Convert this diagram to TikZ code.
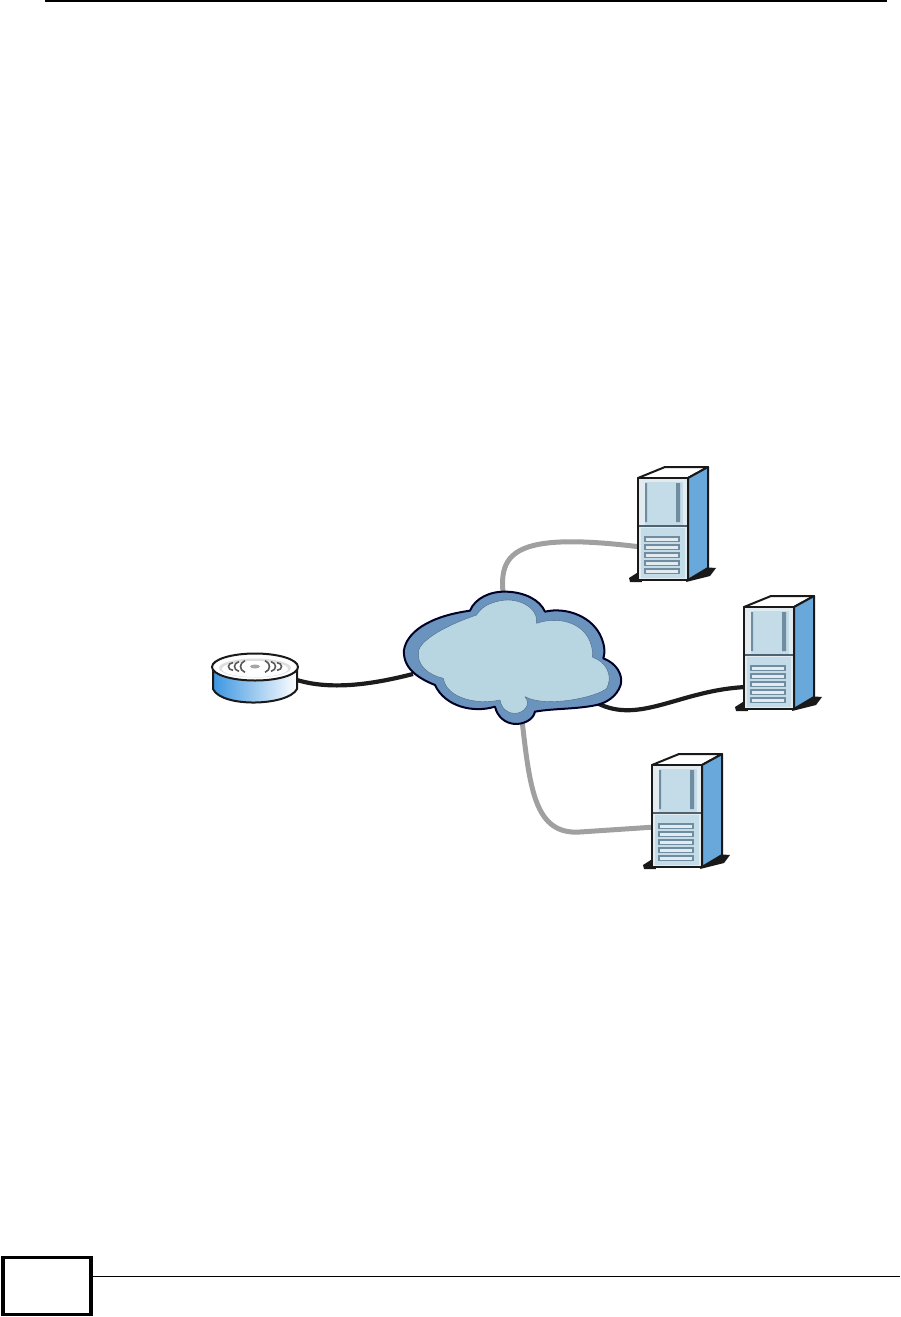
\documentclass[tikz,border=0pt]{standalone}
\usetikzlibrary{calc}
\definecolor{cloudfill}{RGB}{184,214,226}
\definecolor{cloudrim}{RGB}{106,148,190}
\definecolor{serverblue}{RGB}{104,168,218}
\definecolor{serverpale}{RGB}{196,220,232}
\definecolor{serverlight}{RGB}{226,236,240}
\definecolor{slotblue}{RGB}{112,140,160}
\definecolor{routerblue}{RGB}{60,150,225}
\definecolor{cablegrey}{RGB}{160,160,160}
\definecolor{cableblack}{RGB}{28,28,28}
\tikzset{
  outline/.style={draw=black!90,line width=2pt,line join=round},
  greycable/.style={draw=cablegrey,line width=5pt},
  blackcable/.style={draw=cableblack,line width=4.2pt},
  server/.pic={
    % feet
    \fill[black!90] (-9,100) -- (2,93) -- (4,104) -- (-8,104) -- cycle;
    \fill[black!90] (48,104) -- (72,98) -- (78,90) -- (64,89) -- (50,98) -- cycle;
    % cabinet
    \draw[outline,fill=white] (0,0) -- (27,-11) -- (70,-11) -- (50,0) -- cycle;
    \draw[outline,fill=serverblue] (50,0) -- (70,-11) -- (70,90) -- (50,102) -- cycle;
    \draw[outline,fill=serverlight] (0,0) -- (50,0) -- (50,102) -- (0,102) -- cycle;
    \fill[serverpale] (7,4) rectangle (45,48);
    \fill[serverpale] (3,50) rectangle (47,100);
    \fill[slotblue] (7,5) rectangle (9,44) (38,5) rectangle (42,44);
    \draw[slotblue!70!black,line width=1.5pt] (1,48) -- (49,48);
    \foreach \slot in {59,67,75,83,91}
      \draw[slotblue,fill=serverlight,line width=1.2pt] (7,\slot) rectangle (41,\slot+4.5);
  }
}
\begin{document}
\begin{tikzpicture}[x=1pt,y=-1pt]
  \useasboundingbox (0,0) rectangle (900,1317);
  % page furniture
  \coordinate (headL) at (45,0.8);
  \coordinate (headR) at (887,0.8);
  \draw[line width=1.6pt] (headL) -- (headR);
  \node[draw,line width=3.2pt,minimum width=88pt,minimum height=57pt,inner sep=0pt] (pagebox) at (47,1286) {};
  \coordinate (footR) at (900,1276);
  \draw[line width=1pt] (pagebox.east |- footR) -- (footR);
  % cable ends
  \coordinate (cloudN) at (503,592);
  \coordinate (cloudS) at (522,720);
  \coordinate (cloudE) at (597,703);
  \coordinate (cloudW) at (413,674);
  \coordinate (routerE) at (297,680);
  \coordinate (serverAport) at (641,547);
  \coordinate (serverBport) at (746,687);
  \coordinate (serverCport) at (655,827);
  % cables
  \draw[greycable] (cloudN) .. controls (499,550) and (520,532) .. (serverAport);
  \draw[greycable] (cloudS) .. controls (530,790) and (535,835) .. (580,832) -- (serverCport);
  \draw[blackcable] (cloudE) .. controls (640,725) and (680,690) .. (serverBport);
  \draw[blackcable] (routerE) .. controls (330,690) and (370,685) .. (cloudW);
  % servers
  \pic at (638,478) {server};
  \pic at (744,607) {server};
  \pic at (652,765) {server};
  % router
  \draw[outline,left color=routerblue,right color=white] (213,666) -- (213,689) .. controls (222,708) and (288,706) .. (297,689) -- (297,666) -- cycle;
  \draw[outline,fill=white] (255,667) ellipse (43pt and 13.5pt);
  \fill[gray!25] (255,668) ellipse (36pt and 9.5pt);
  \fill[white] (255,669) ellipse (33pt and 8pt);
  \fill[gray!70] (255,666.5) ellipse (5pt and 2pt);
  \foreach \rad in {10,16,22}{
    \draw[black!65,line width=1.6pt] (255-\rad,659+\rad/6) .. controls (255-\rad-6,663) and (255-\rad-6,670) .. (255-\rad,674-\rad/6);
    \draw[black!65,line width=1.6pt] (255+\rad,659+\rad/6) .. controls (255+\rad+6,663) and (255+\rad+6,670) .. (255+\rad,674-\rad/6);
  }
  % cloud
  \begin{scope}[shift={(390,580)},x=0.3333pt,y=-0.3333pt]
    \draw[draw=black!85!blue,line width=2pt,line join=round,fill=cloudrim] (42,210)
      .. controls (50,160) and (110,110) .. (240,92)
      .. controls (255,55) and (300,33) .. (350,35)
      .. controls (405,37) and (450,60) .. (465,95)
      .. controls (530,80) and (610,110) .. (635,175)
      .. controls (645,200) and (645,220) .. (640,235)
      .. controls (680,250) and (700,285) .. (692,315)
      .. controls (680,350) and (650,368) .. (620,375)
      .. controls (560,388) and (490,385) .. (435,395)
      .. controls (430,420) and (400,433) .. (375,432)
      .. controls (345,430) and (322,410) .. (315,380)
      .. controls (250,400) and (165,380) .. (135,315)
      .. controls (85,295) and (38,265) .. (42,210) -- cycle;
    \draw[draw=cloudrim!70!black,line width=0.4pt,fill=cloudfill,line join=round] (85,215)
      .. controls (90,180) and (170,135) .. (260,105)
      .. controls (275,75) and (320,60) .. (355,60)
      .. controls (410,62) and (445,95) .. (440,130)
      .. controls (510,105) and (610,130) .. (608,232)
      .. controls (650,245) and (670,290) .. (650,325)
      .. controls (625,350) and (470,385) .. (405,350)
      .. controls (425,375) and (400,400) .. (375,400)
      .. controls (350,400) and (335,385) .. (330,360)
      .. controls (260,375) and (170,355) .. (160,295)
      .. controls (115,285) and (80,255) .. (85,215) -- cycle;
  \end{scope}
\end{tikzpicture}
\end{document}
